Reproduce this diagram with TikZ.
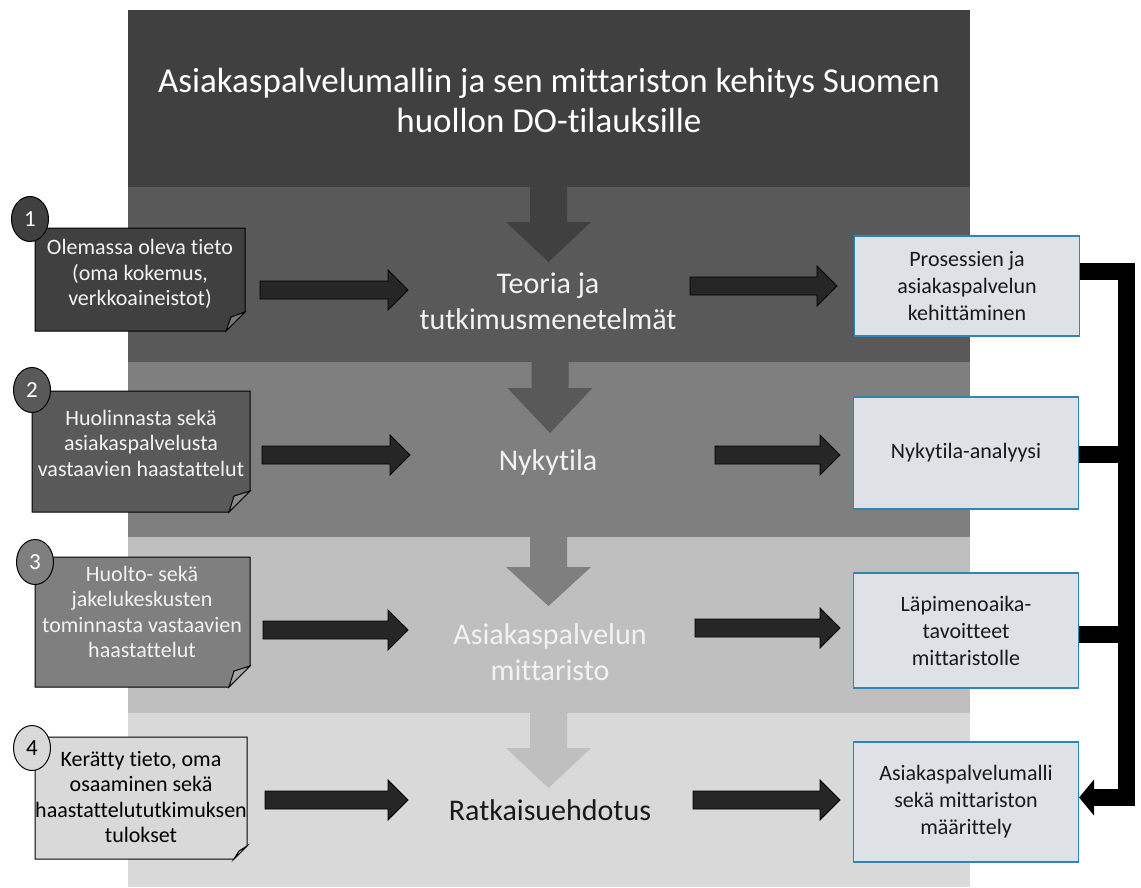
\documentclass[tikz,border=0pt]{standalone}
\usepackage{fontspec}
\setmainfont{Carlito}[Ligatures=CommonOff]
\usetikzlibrary{arrows.meta,shapes.geometric}
\definecolor{cA}{HTML}{404040}
\definecolor{cB}{HTML}{595959}
\definecolor{cC}{HTML}{7F7F7F}
\definecolor{cD}{HTML}{BFBFBF}
\definecolor{cE}{HTML}{D9D9D9}
\definecolor{arrfill}{HTML}{262626}
\definecolor{boxfill}{HTML}{DEE1E5}
\definecolor{boxline}{HTML}{2F85B3}
\definecolor{wtext}{HTML}{F2F2F2}
\newcommand\blockR[3]{%
  \filldraw[harrow] (#1,#3-9) -- (#2-20,#3-9) -- (#2-20,#3-20) -- (#2,#3) -- (#2-20,#3+20) -- (#2-20,#3+9) -- (#1,#3+9) -- cycle;}
\newcommand\blockD[5]{%
  \fill[#5] (#1-18.5,#2) -- (#1+18.5,#2) -- (#1+18.5,#3) -- (#1+42.5,#3) -- (#1,#4) -- (#1-42.5,#3) -- (#1-18.5,#3) -- cycle;}
\newcommand\stickynote[6]{% x1,y1,x2,y2,fold,colour
  \filldraw[notebody,fill=#6] (#1,#2) -- (#3,#2) -- (#3,#4-#5) -- (#3-#5,#4) -- (#1,#4) -- cycle;
  \filldraw[notebody,fill=#6!70!white] (#3,#4-#5) -- (#3-#5+5,#4-#5+5) -- (#3-#5,#4) -- cycle;}
\tikzset{
  harrow/.style={fill=arrfill,draw=black,line width=0.8pt},
  notebody/.style={draw=black,line width=1pt,line join=miter},
  numcirc/.style={ellipse,draw=black,line width=1pt,minimum width=37pt,minimum height=45pt,inner sep=0pt,font=\fontsize{23}{24}\selectfont},
  notetext/.style={align=center,font=\fontsize{22}{25.5}\selectfont,inner sep=0pt},
  bandtext/.style={align=center,font=\fontsize{30}{36}\selectfont,inner sep=0pt},
  rbox/.style={draw=boxline,fill=boxfill,line width=1.2pt,minimum width=225pt,align=center,inner sep=0pt,font=\fontsize{22}{27}\selectfont,text=black!90},
  bar/.style={line width=17pt,black,line join=miter}
}
\begin{document}
\begin{tikzpicture}[x=1pt,y=-1pt]
\useasboundingbox (0,0) rectangle (1141,887);
\fill[white] (0,0) rectangle (1141,887);
% bands
\fill[cA] (128,10) rectangle (970,187);
\fill[cB] (128,187) rectangle (970,362);
\fill[cC] (128,362) rectangle (970,537);
\fill[cD] (128,537) rectangle (970,713);
\fill[cE] (128,713) rectangle (970,887);
% title
\node[align=center,text=white,font=\fontsize{35}{40}\selectfont,inner sep=0pt] (title) at (549,100)
  {Asiakaspalvelumallin ja sen mittariston kehitys Suomen\\huollon DO-tilauksille};
% down arrows
\blockD{548.5}{187}{222}{262}{cA}
\blockD{550}{362}{388}{433}{cB}
\blockD{548.5}{537}{567}{606}{cC}
\blockD{548.5}{713}{748}{788}{cD}
% band labels
\node[bandtext,text=wtext] (t1) at (548,301) {Teoria ja\\tutkimusmenetelmät};
\node[bandtext,text=wtext] (t2) at (548,462) {Nykytila};
\node[bandtext,text=wtext] (t3) at (550,652) {Asiakaspalvelun\\mittaristo};
\node[bandtext,text=black!90] (t4) at (550,810) {Ratkaisuehdotus};
% sticky notes
\stickynote{35}{228}{245}{331}{19}{cA}
\stickynote{32}{391}{250}{512}{21}{cB}
\stickynote{35}{557}{250}{687}{21}{cC}
\stickynote{35}{737}{247}{859}{13}{cE}
\node[notetext,text=wtext] (n1) at (140,274) {Olemassa oleva tieto\\(oma kokemus,\\verkkoaineistot)};
\node[notetext,text=wtext] (n2) at (141,443) {Huolinnasta sekä\\asiakaspalvelusta\\vastaavien haastattelut};
\node[notetext,text=wtext] (n3) at (142,612) {Huolto- sekä\\jakelukeskusten\\tominnasta vastaavien\\haastattelut};
\node[notetext,text=black] (n4) at (141,797) {Kerätty tieto, oma\\osaaminen sekä\\haastattelututkimuksen\\tulokset};
\node[numcirc,fill=cA,text=white] (c1) at (30,219) {1};
\node[numcirc,fill=cB,text=white] (c2) at (32,390) {2};
\node[numcirc,fill=cC,text=white] (c3) at (35,562) {3};
\node[numcirc,fill=cE,text=black] (c4) at (32,748) {4};
% left block arrows
\blockR{260}{408}{290}
\blockR{262}{410}{455}
\blockR{263}{408}{630}
\blockR{265}{408}{800}
% right block arrows
\blockR{690}{837}{286}
\blockR{715}{840}{455}
\blockR{695}{840}{628}
\blockR{693}{840}{800}
% right boxes
\node[rbox,minimum height=100pt] (b1) at (967,286) {Prosessien ja\\asiakaspalvelun\\kehittäminen};
\node[rbox,minimum height=112pt] (b2) at (966,453) {Nykytila-analyysi};
\node[rbox,minimum height=115pt] (b3) at (966,630.5) {Läpimenoaika-\\tavoitteet\\mittaristolle};
\node[rbox,minimum height=120pt] (b4) at (966,802) {Asiakaspalvelumalli\\sekä mittariston\\määrittely};
% bracket
\coordinate (vx) at (1126.5,0);
\coordinate (ytop) at (0,271);
\coordinate (y2) at (0,454);
\coordinate (y3) at (0,634.5);
\coordinate (ybot) at (0,797.5);
\coordinate (headbase) at (1094,0);
\draw[bar] (b1.east |- ytop) -- (vx |- ytop) -- (vx |- ybot) -- ([xshift=-2pt]headbase |- ybot);
\fill[black] (headbase |- ybot) ++(0,-18) -- ++(0,36) -- (b4.east |- ybot) -- cycle;
\draw[bar] (b2.east |- y2) -- (vx |- y2);
\draw[bar] (b3.east |- y3) -- (vx |- y3);
\end{tikzpicture}
\end{document}
